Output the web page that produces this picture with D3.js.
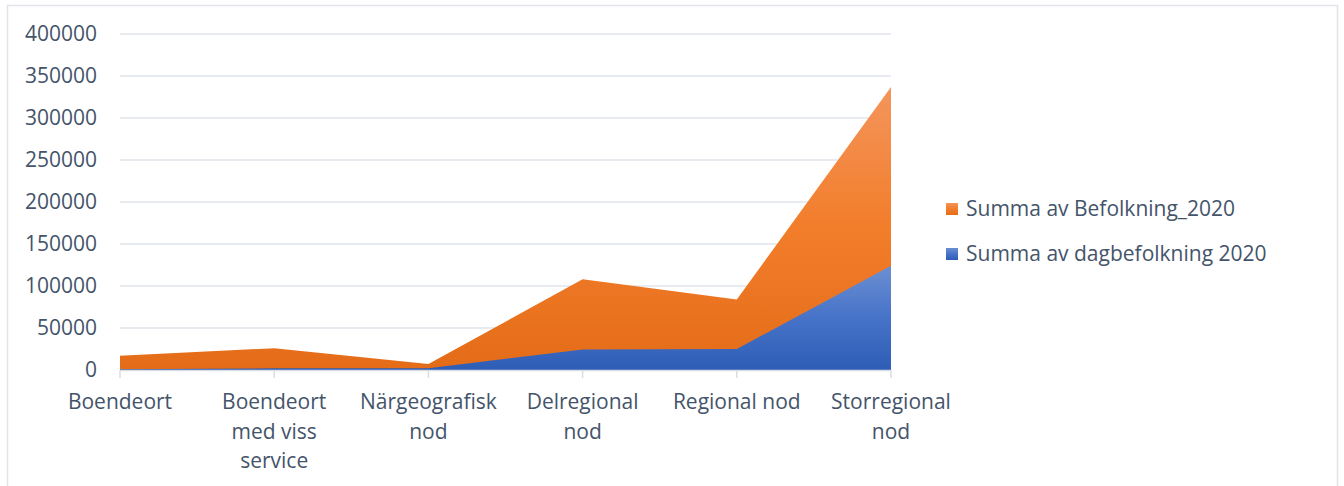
<!DOCTYPE html>
<html>
<head>
<meta charset="utf-8">
<script src="https://cdn.jsdelivr.net/npm/d3@7"></script>
<style>
  body { margin: 0; background: #fff; }
  text { font-family: "Open Sans", sans-serif; fill: #44546a; }
</style>
</head>
<body>
<div class="chartContainer"></div>
<script>
// categories (x axis) and series values
var categories = ["Boendeort", "Boendeort med viss service", "Närgeografisk nod", "Delregional nod", "Regional nod", "Storregional nod"];
var categoryLines = [["Boendeort"], ["Boendeort", "med viss", "service"], ["Närgeografisk", "nod"], ["Delregional", "nod"], ["Regional nod"], ["Storregional", "nod"]];
var befolkning = [17000, 26000, 7000, 108000, 84000, 337000];
var dagbefolkning = [1000, 2000, 2000, 24500, 25000, 124000];
var seriesNames = ["Summa av Befolkning_2020", "Summa av dagbefolkning 2020"];
var yTicks = [0, 50000, 100000, 150000, 200000, 250000, 300000, 350000, 400000];

window.onload = drawChart();

function drawChart(){
    var width = 1344,
        height = 486;

    var svg = d3.select("div.chartContainer")
        .append("svg")
        .attr("width", width)
        .attr("height", height);

    // gradients for the two areas
    var defs = svg.append("defs");
    var gOrange = defs.append("linearGradient")
        .attr("id", "gradOrange")
        .attr("x1", 0).attr("y1", 0).attr("x2", 0).attr("y2", 1);
    gOrange.append("stop").attr("offset", "0%").attr("stop-color", "#f4955c");
    gOrange.append("stop").attr("offset", "50%").attr("stop-color", "#f27d2a");
    gOrange.append("stop").attr("offset", "100%").attr("stop-color", "#e46c19");

    var gBlue = defs.append("linearGradient")
        .attr("id", "gradBlue")
        .attr("x1", 0).attr("y1", 0).attr("x2", 0).attr("y2", 1);
    gBlue.append("stop").attr("offset", "0%").attr("stop-color", "#6b8fd2");
    gBlue.append("stop").attr("offset", "50%").attr("stop-color", "#4673c8");
    gBlue.append("stop").attr("offset", "100%").attr("stop-color", "#2e5db6");

    // outer frame
    svg.append("rect")
        .attr("x", 7.5).attr("y", 5.5)
        .attr("width", 1330).attr("height", 490)
        .attr("fill", "none")
        .attr("stroke", "#e1e4ea")
        .attr("stroke-width", 1.5);

    var x = d3.scalePoint()
        .domain(categories)
        .range([120, 891]);

    var y = d3.scaleLinear()
        .domain([0, 400000])
        .range([370, 34]);

    // gridlines
    svg.append("g")
        .selectAll("line")
        .data(yTicks)
        .enter()
        .append("line")
        .attr("x1", 120).attr("x2", 891)
        .attr("y1", function(d){ return y(d); })
        .attr("y2", function(d){ return y(d); })
        .attr("stroke", "#e1e4ea")
        .attr("stroke-width", 1.5);

    // y tick labels
    svg.append("g")
        .selectAll("text")
        .data(yTicks)
        .enter()
        .append("text")
        .attr("x", 97)
        .attr("y", function(d){ return y(d); })
        .attr("dy", "0.35em")
        .attr("text-anchor", "end")
        .style("font-size", "21px")
        .text(function(d){ return d; });

    var area = d3.area()
        .x(function(d, i){ return x(categories[i]); })
        .y0(y(0))
        .y1(function(d){ return y(d); });

    svg.append("path")
        .datum(befolkning)
        .attr("d", area)
        .attr("fill", "url(#gradOrange)");

    svg.append("path")
        .datum(dagbefolkning)
        .attr("d", area)
        .attr("fill", "url(#gradBlue)");

    // x axis line and ticks
    svg.append("line")
        .attr("x1", 120).attr("x2", 891)
        .attr("y1", 370.5).attr("y2", 370.5)
        .attr("stroke", "#d9dde5")
        .attr("stroke-width", 1.5);

    svg.append("g")
        .selectAll("line")
        .data(categories)
        .enter()
        .append("line")
        .attr("x1", function(d){ return x(d); })
        .attr("x2", function(d){ return x(d); })
        .attr("y1", 370).attr("y2", 378)
        .attr("stroke", "#d9dde5")
        .attr("stroke-width", 1.5);

    // x labels, wrapped
    var labels = svg.append("g")
        .selectAll("text")
        .data(categories)
        .enter()
        .append("text")
        .attr("text-anchor", "middle")
        .style("font-size", "21px");

    labels.each(function(d, i){
        var t = d3.select(this);
        categoryLines[i].forEach(function(line, j){
            t.append("tspan")
                .attr("x", x(d))
                .attr("y", 409 + j * 29.5)
                .text(line);
        });
    });

    // legend
    var legendFills = ["url(#gradOrange)", "url(#gradBlue)"];
    var legend = svg.append("g")
        .selectAll("g")
        .data(seriesNames)
        .enter()
        .append("g")
        .attr("transform", function(d, i){ return "translate(946," + (209 + i * 45) + ")"; });

    legend.append("rect")
        .attr("x", 0).attr("y", -6)
        .attr("width", 12).attr("height", 12)
        .attr("fill", function(d, i){ return legendFills[i]; });

    legend.append("text")
        .attr("x", 20)
        .attr("y", 0)
        .attr("dy", "0.35em")
        .style("font-size", "21px")
        .text(function(d){ return d; });
};
</script>
</body>
</html>
